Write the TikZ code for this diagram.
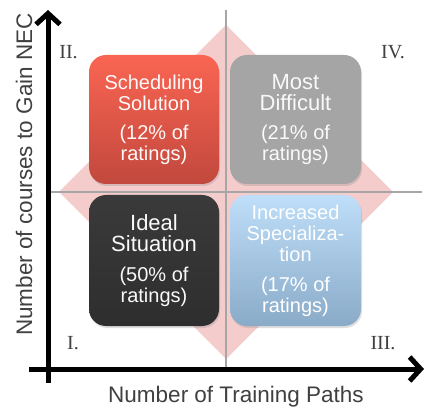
\documentclass[tikz,border=0pt]{standalone}
\usepackage{fontspec}
\setmainfont{Liberation Sans}
\newfontfamily\romanfont{Liberation Serif}
\usetikzlibrary{arrows.meta,shadows}
\definecolor{diamondpink}{HTML}{F4CCCB}
\definecolor{gridgray}{HTML}{A6A6A6}
\definecolor{labelgray}{HTML}{404040}
\definecolor{redtop}{HTML}{FA6552}
\definecolor{redbot}{HTML}{C2483D}
\definecolor{graybox}{HTML}{A5A5A5}
\definecolor{darktop}{HTML}{3A3A3A}
\definecolor{darkbot}{HTML}{2E2E2E}
\definecolor{bluetop}{HTML}{BEDEF9}
\definecolor{bluebot}{HTML}{8AABC8}
\newcommand{\bigtitle}{\fontsize{22}{23}\selectfont}
\newcommand{\smalltext}{\fontsize{20}{21}\selectfont}
\tikzset{
  quadbox/.style={rounded corners=17pt, minimum width=130pt, minimum height=129pt,
    align=center, inner sep=2pt,
    drop shadow={opacity=0.25, shadow xshift=1pt, shadow yshift=-2pt},
    font=\smalltext},
  axisline/.style={line width=5pt, -{Straight Barb[length=11pt,width=24pt]}},
  gridline/.style={gridgray, line width=1.1pt},
  axislabel/.style={text=labelgray, font=\fontsize{22.5}{24}\selectfont},
  quadlabel/.style={text=labelgray, font=\romanfont\fontsize{20}{22}\selectfont},
}
\begin{document}
\begin{tikzpicture}[x=1pt,y=-1pt]
\useasboundingbox (0,0) rectangle (425,411);
% diamond background
\fill[diamondpink] (226,25) -- (393,192) -- (226,359) -- (59,192) -- cycle;
% grid lines
\coordinate (vtop) at (226,10);
\coordinate (vbot) at (226,369);
\coordinate (hleft) at (48,192);
\coordinate (hright) at (422,192);
\draw[gridline] (vtop) -- (vbot);
\draw[gridline] (hleft) -- (hright);
% boxes
\node[quadbox, top color=redtop, bottom color=redbot, text=white!90!pink] (sched) at (154,119.5)
  {Scheduling\\Solution\\[8pt](12\% of\\ratings)};
\node[quadbox, fill=graybox, text=white!95!gray, minimum width=131pt] (most) at (295.5,119.5)
  {\bigtitle Most\\\bigtitle Difficult\\[8pt]\smalltext (21\% of\\\smalltext ratings)};
\node[quadbox, top color=darktop, bottom color=darkbot, text=white!95!gray, minimum height=131pt] (ideal) at (154,260.5)
  {\bigtitle Ideal\\\bigtitle Situation\\[9pt]\smalltext (50\% of\\\smalltext ratings)};
\node[quadbox, top color=bluetop, bottom color=bluebot, text=white, minimum width=131pt, minimum height=131pt] (incr) at (295.5,260.5)
  {Increased\\Specializa-\\tion\\[9pt](17\% of\\ratings)};
% axes
\coordinate (ybot) at (48,383);
\coordinate (ytop) at (48,10);
\coordinate (xleft) at (29,369);
\coordinate (xright) at (424,369);
\draw[axisline] (ybot) -- (ytop);
\draw[axisline] (xleft) -- (xright);
% axis labels
\node[axislabel] (xlab) at (236,397) {Number of Training Paths};
\node[axislabel, rotate=90] (ylab) at (24,174.5) {Number of courses to Gain NEC};
% quadrant labels
\node[quadlabel] (q2) at (68.5,52) {II.};
\node[quadlabel] (q4) at (393,52) {IV.};
\node[quadlabel] (q1) at (73,343) {I.};
\node[quadlabel] (q3) at (383,343) {III.};
\end{tikzpicture}
\end{document}
